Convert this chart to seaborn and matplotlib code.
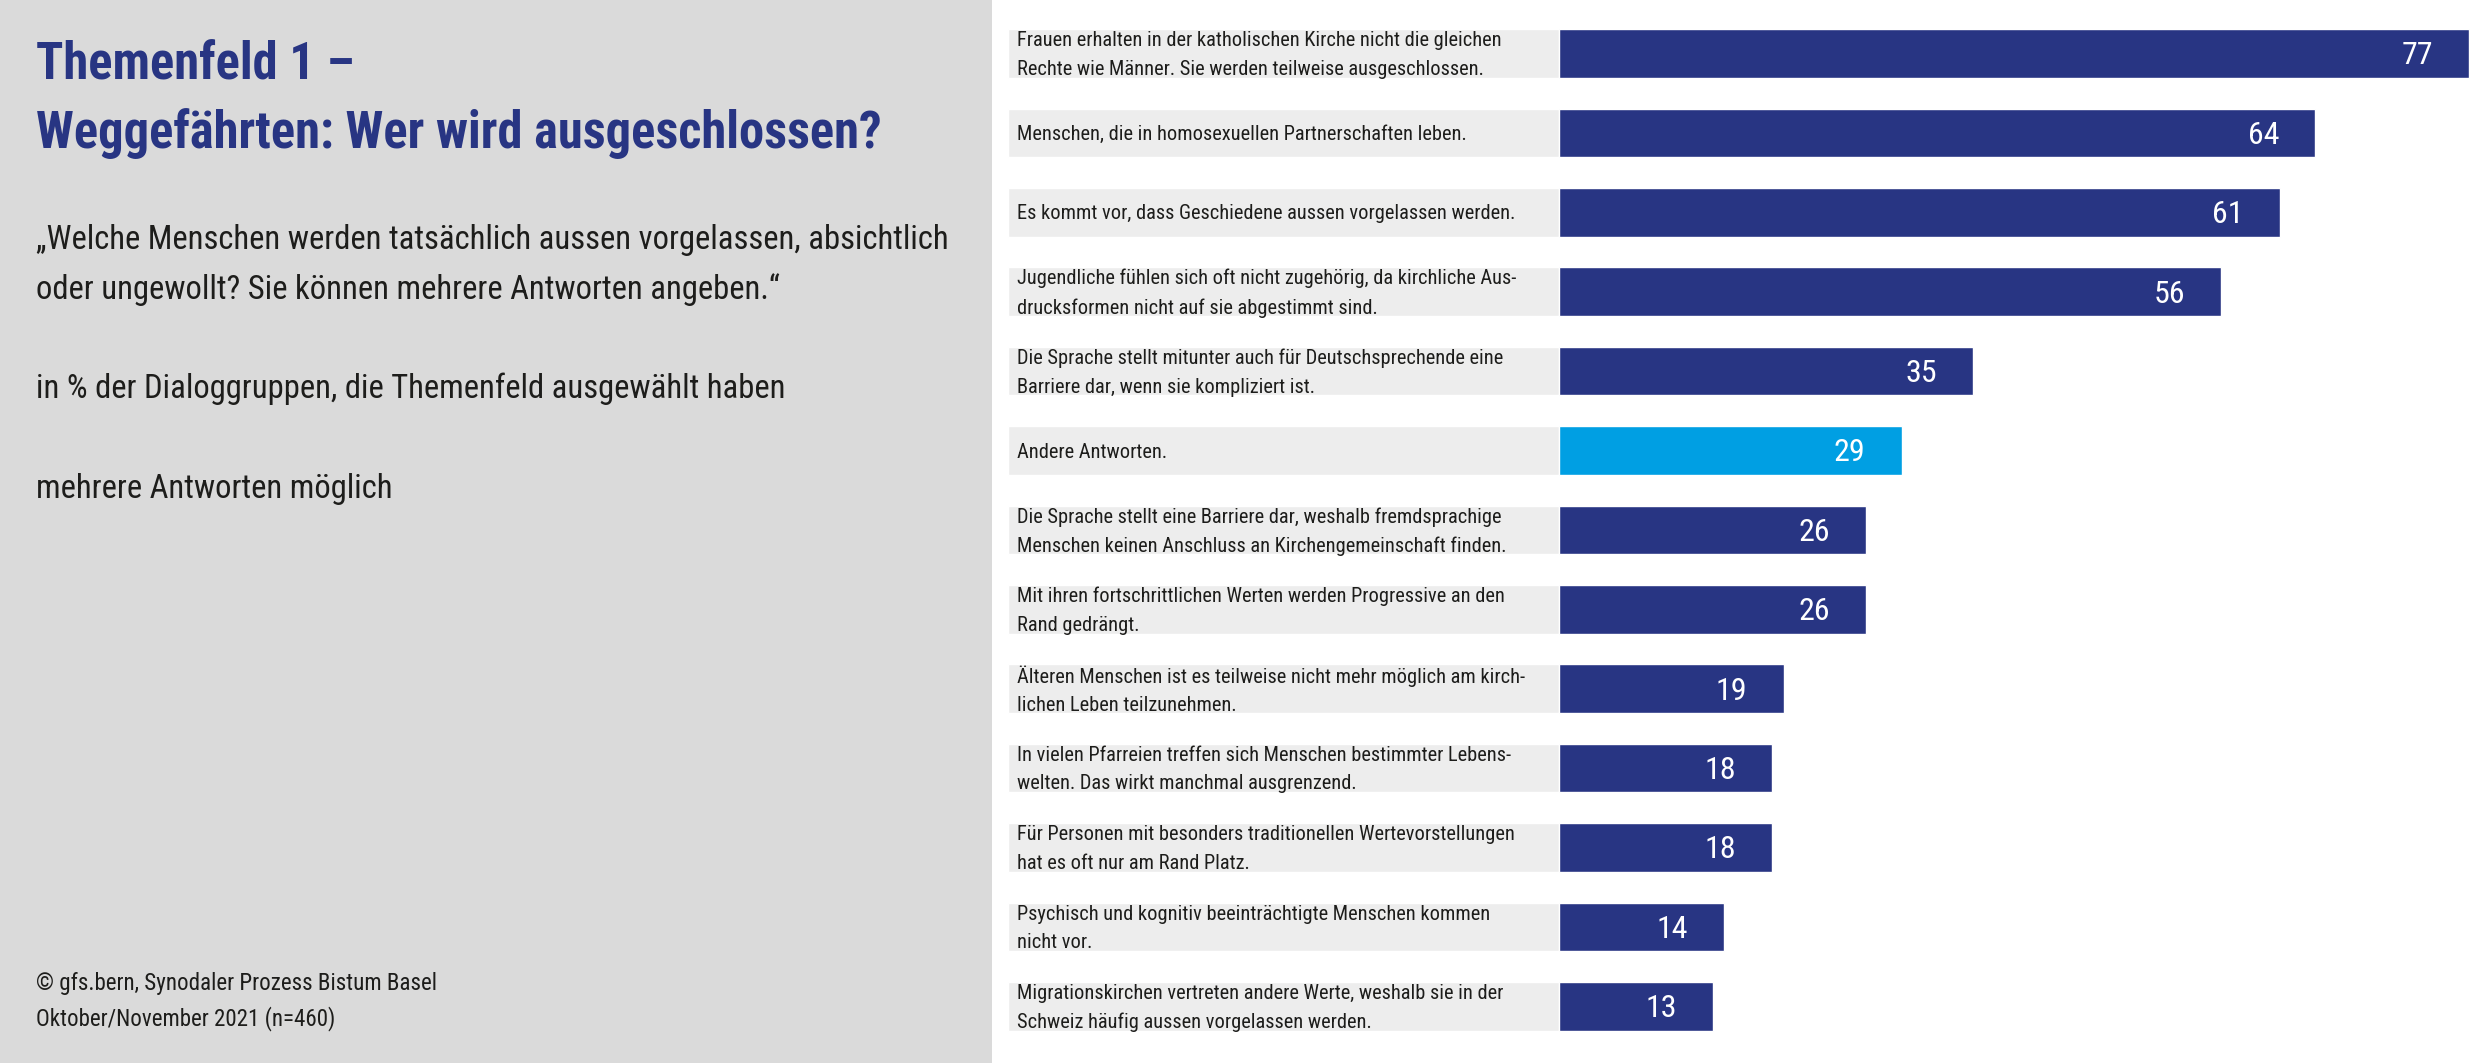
import matplotlib
matplotlib.use("Agg")
import matplotlib.pyplot as plt
import seaborn as sns
import pandas as pd
import numpy as np
from matplotlib import font_manager as fm
from matplotlib.patches import Rectangle

# ---------------- data ----------------
categories = [
    "Frauen erhalten in der katholischen Kirche nicht die gleichen\nRechte wie Männer. Sie werden teilweise ausgeschlossen.",
    "Menschen, die in homosexuellen Partnerschaften leben.",
    "Es kommt vor, dass Geschiedene aussen vorgelassen werden.",
    "Jugendliche fühlen sich oft nicht zugehörig, da kirchliche Aus-\ndrucksformen nicht auf sie abgestimmt sind.",
    "Die Sprache stellt mitunter auch für Deutschsprechende eine\nBarriere dar, wenn sie kompliziert ist.",
    "Andere Antworten.",
    "Die Sprache stellt eine Barriere dar, weshalb fremdsprachige\nMenschen keinen Anschluss an Kirchengemeinschaft finden.",
    "Mit ihren fortschrittlichen Werten werden Progressive an den\nRand gedrängt.",
    "Älteren Menschen ist es teilweise nicht mehr möglich am kirch-\nlichen Leben teilzunehmen.",
    "In vielen Pfarreien treffen sich Menschen bestimmter Lebens-\nwelten. Das wirkt manchmal ausgrenzend.",
    "Für Personen mit besonders traditionellen Wertevorstellungen\nhat es oft nur am Rand Platz.",
    "Psychisch und kognitiv beeinträchtigte Menschen kommen\nnicht vor.",
    "Migrationskirchen vertreten andere Werte, weshalb sie in der\nSchweiz häufig aussen vorgelassen werden.",
]
values = [77, 64, 61, 56, 35, 29, 26, 26, 19, 18, 18, 14, 13]
highlight = "Andere Antworten."

title_lines = ["Themenfeld 1 –", "Weggefährten: Wer wird ausgeschlossen?"]
question_lines = [
    "„Welche Menschen werden tatsächlich aussen vorgelassen, absichtlich",
    "oder ungewollt? Sie können mehrere Antworten angeben.“",
]
basis_text = "in % der Dialoggruppen, die Themenfeld ausgewählt haben"
note_text = "mehrere Antworten möglich"
source_lines = ["© gfs.bern, Synodaler Prozess Bistum Basel", "Oktober/November 2021 (n=460)"]

# ---------------- style ----------------
DARK = "#283583"
LIGHT = "#009FE3"
LABEL_BG = "#EDEDED"
PANEL = "#DADADA"
TEXT = "#1D1D1B"

sns.set_theme(style="white")
names = {f.name for f in fm.fontManager.ttflist}
family = None
stretch = "normal"
for cand in ["Liberation Sans Narrow", "Roboto Condensed", "Open Sans Condensed",
             "Noto Sans Condensed", "DejaVu Sans Condensed"]:
    if cand in names:
        family = cand
        break
if family is None:
    conds = [f for f in fm.fontManager.ttflist
             if str(f.stretch) in ("condensed", "semi-condensed", "extra-condensed", "75", "87")]
    if conds:
        family = conds[0].name
        stretch = "condensed"
    else:
        family = "DejaVu Sans"
plt.rcParams["font.family"] = [family, "DejaVu Sans"]
plt.rcParams["font.stretch"] = stretch

W, H = 2480, 1063
fig = plt.figure(figsize=(W / 100, H / 100), dpi=100)
fig.patch.set_facecolor("white")
fig.patches.append(Rectangle((0, 0), 992 / W, 1, transform=fig.transFigure,
                             facecolor=PANEL, edgecolor="none", zorder=0))

# ---------------- bar axes ----------------
pitch = 79.4
top_center = 53.5
ax_top = top_center - 0.5 * pitch
ax_bot = top_center + (len(categories) - 0.5) * pitch
ax = fig.add_axes([1008 / W, (H - ax_bot) / H, (W - 1008) / W, (ax_bot - ax_top) / H])

bar_left_px = 1559
ppu = (2469 - bar_left_px) / max(values)
xmin = -(bar_left_px - 1008) / ppu
xmax = (W - bar_left_px) / ppu

n = len(categories)
pos = np.arange(n)
ax.barh(pos, [-xmin] * n, left=xmin, height=0.61, color=LABEL_BG, zorder=0)

df = pd.DataFrame({"Antwort": categories, "Prozent": values})
palette = {c: (LIGHT if c == highlight else DARK) for c in categories}
sns.barplot(data=df, x="Prozent", y="Antwort", hue="Antwort", palette=palette,
            orient="h", width=0.61, saturation=1, legend=False, ax=ax, zorder=2)
ax.set_xlim(xmin, xmax)
ax.set_ylim(n - 0.5, -0.5)
ax.axis("off")

label_texts = []
for i, c in enumerate(categories):
    t = ax.text(xmin + 9 / ppu, i + 0.02, c, ha="left", va="center", fontsize=14,
                linespacing=1.62, color=TEXT, zorder=3)
    label_texts.append(t)

for i, v in enumerate(values):
    ax.text(v - 36 / ppu, i + 0.03, f"{v}", ha="right", va="center", fontsize=23,
            color="white", zorder=4)

# ---------------- left panel ----------------
def ftext(x, y, s, **kw):
    return fig.text(x / W, 1 - y / H, s, ha="left", va="baseline", **kw)

t_title = [ftext(36, 79, title_lines[0], fontsize=40, fontweight="bold", color=DARK),
           ftext(36, 148, title_lines[1], fontsize=40, fontweight="bold", color=DARK)]
t_q = [ftext(36, 249, question_lines[0], fontsize=27, color=TEXT),
       ftext(36, 299, question_lines[1], fontsize=27, color=TEXT),
       ftext(36, 398, basis_text, fontsize=27, color=TEXT),
       ftext(36, 498, note_text, fontsize=27, color=TEXT)]
t_src = [ftext(36, 990, source_lines[0], fontsize=18, color=TEXT),
         ftext(36, 1025, source_lines[1], fontsize=18, color=TEXT)]

# fit group sizes to the widths of the reference lines
fig.canvas.draw()
r = fig.canvas.get_renderer()

def fit(group, ref, target):
    w = ref.get_window_extent(r).width
    s = target / w
    for t in group:
        t.set_fontsize(t.get_fontsize() * s)

fit(t_title, t_title[1], 845)
fit(t_q, t_q[0], 910)
fit(t_src, t_src[0], 402)
fit(label_texts, label_texts[0], 485)

fig.savefig("out.png", dpi=100, facecolor="white")
